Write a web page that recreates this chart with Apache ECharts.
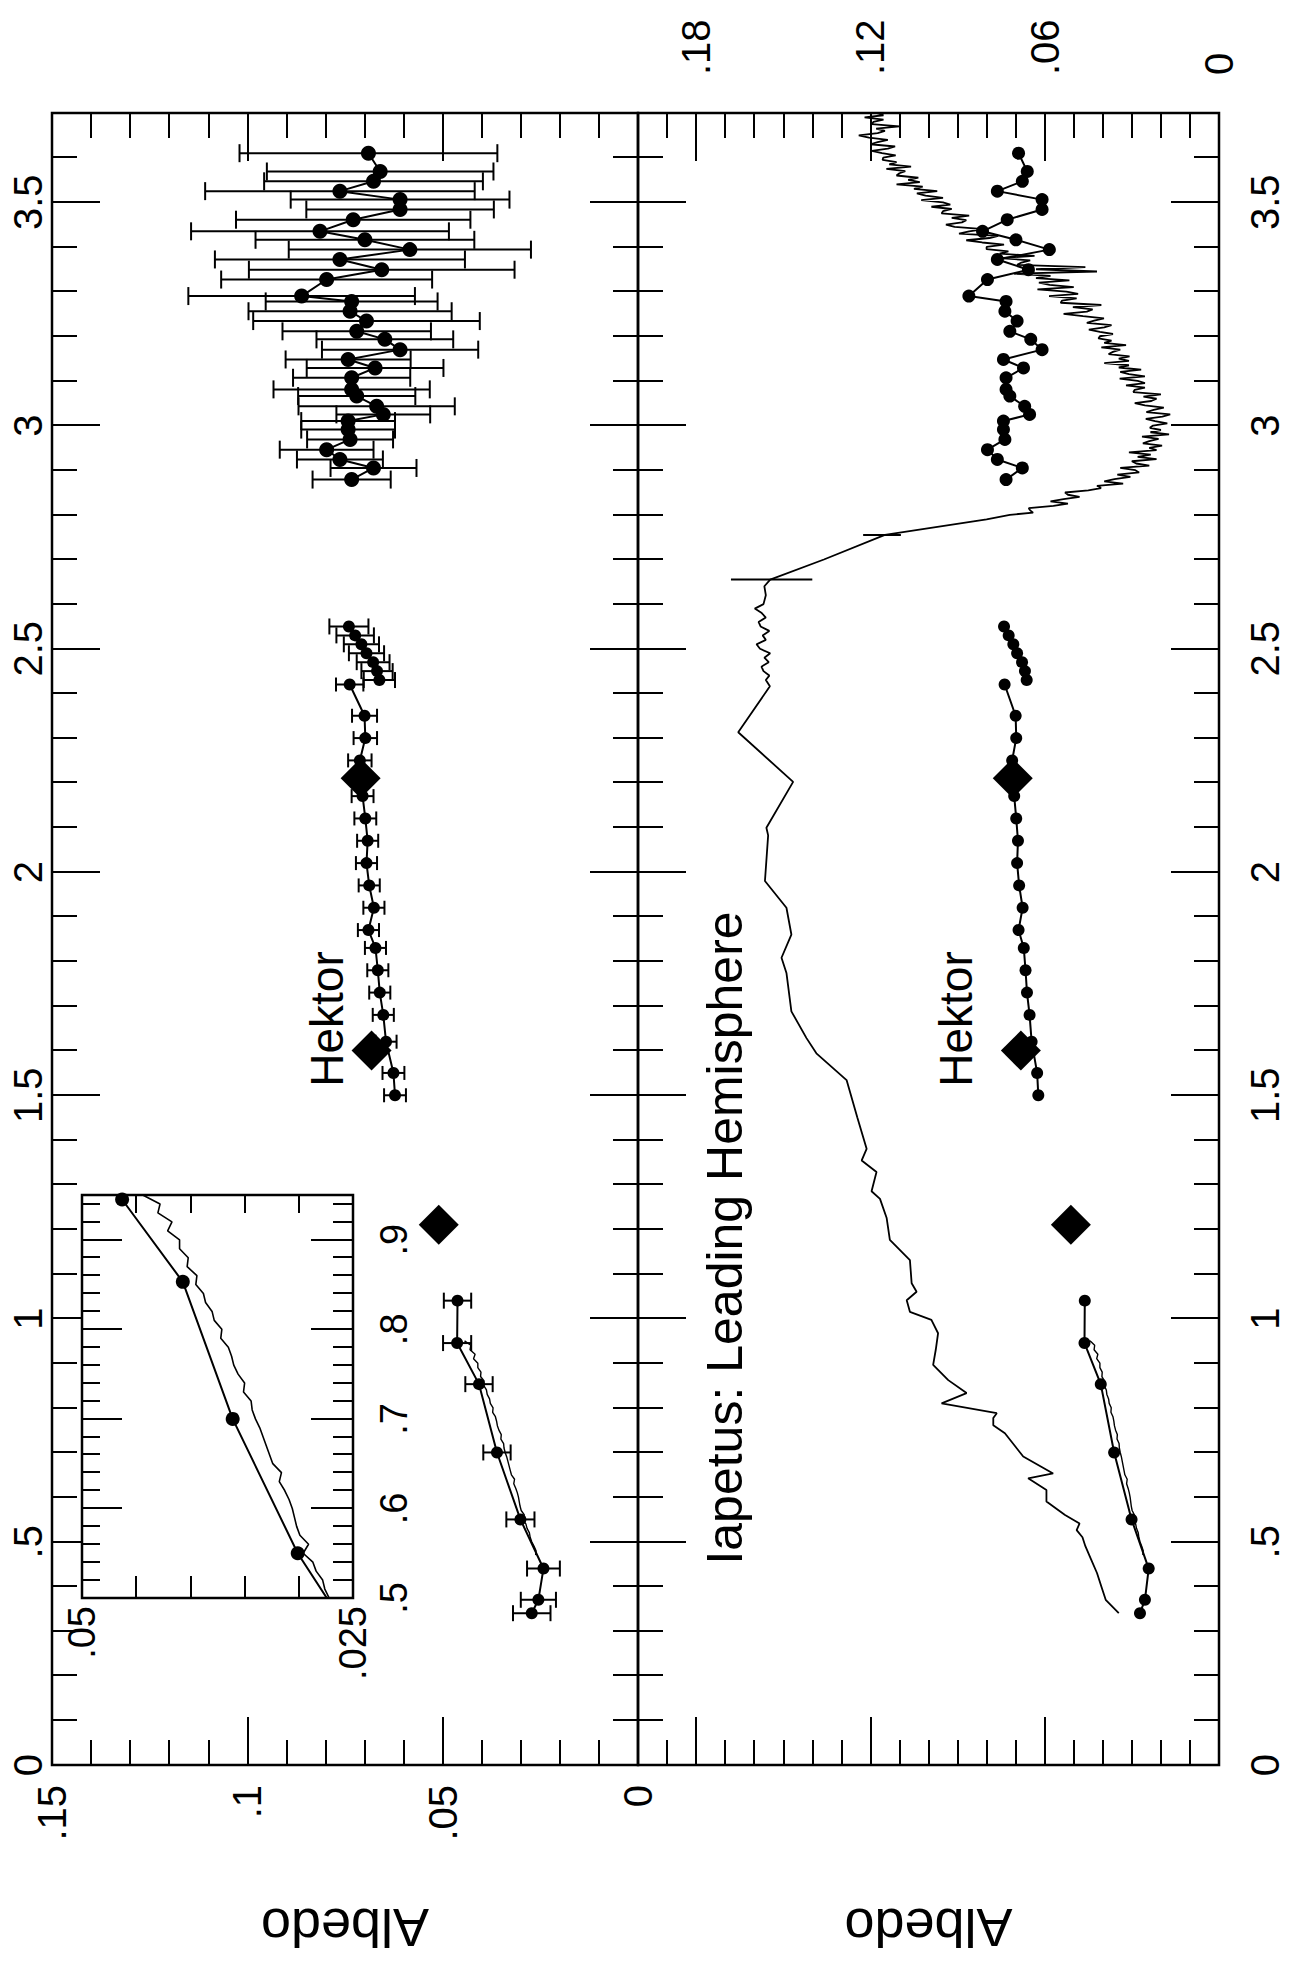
<!DOCTYPE html>
<html>
<head>
<meta charset="utf-8">
<script src="https://cdn.jsdelivr.net/npm/echarts@6/dist/echarts.min.js"></script>
<style>
html, body { margin:0; padding:0; overflow:hidden; width:1298px; height:1961px; background:#fff; }
#chart { position:absolute; left:0; top:0; width:1961px; height:1298px;
  transform-origin:0 0; transform:translate(0px,1961px) rotate(-90deg); background:#fff; }
</style>
</head>
<body>
<div id="chart"></div>
<script>
// ---------------- DATA ----------------
// Tick labels
const wlTickLabels = [0, 0.5, 1, 1.5, 2, 2.5, 3, 3.5];
const hkAlbTickLabels = [0, 0.05, 0.1, 0.15];
const iaAlbTickLabels = [0, 0.06, 0.12, 0.18];
const insetWlTickLabels = [0.5, 0.6, 0.7, 0.8, 0.9];
const insetAlbTickLabels = [0.025, 0.05];

// Hektor visible photometry (um, albedo, error)
const hkVisWl  = [0.34, 0.37, 0.44, 0.55, 0.70, 0.853, 0.945, 1.04];
const hkVisAlb = [0.0272, 0.0255, 0.0242, 0.0301, 0.0361, 0.0407, 0.0463, 0.0462];
const hkVisErr = [0.0048, 0.0045, 0.0042, 0.0036, 0.0035, 0.0035, 0.0036, 0.0035];

// Hektor visible spectrum (thin line)
const hkSpecWl = [0.47,0.48,0.49,0.50,0.51,0.52,0.53,0.54,0.55,0.56,0.57,0.58,0.59,0.60,0.61,0.62,0.63,0.64,0.65,0.66,0.67,0.68,0.69,0.70,0.71,0.72,0.73,0.74,0.75,0.76,0.77,0.78,0.79,0.80,0.81,0.82,0.83,0.84,0.85,0.86,0.87,0.88,0.89,0.90,0.91,0.92,0.93,0.94,0.95];
const hkSpecAlb = [0.0262,0.0261,0.0266,0.0272,0.0276,0.0278,0.0284,0.0287,0.0296,0.0291,0.0299,0.0302,0.0304,0.0306,0.0309,0.0313,0.0318,0.0316,0.0324,0.0327,0.0330,0.0333,0.0336,0.0340,0.0343,0.0344,0.0351,0.0350,0.0356,0.0360,0.0362,0.0365,0.0372,0.0371,0.0378,0.0380,0.0386,0.0388,0.0395,0.0394,0.0403,0.0402,0.0410,0.0410,0.0421,0.0417,0.0430,0.0428,0.0444];

// Hektor JHK photometry (diamonds)
const hkPhotWl  = [1.21, 1.60, 2.21];
const hkPhotAlb = [0.0510, 0.0682, 0.0710];

// Hektor near-IR spectrum 1.5-2.42
const hkNirWl  = [1.50, 1.55, 1.62, 1.68, 1.73, 1.78, 1.83, 1.87, 1.92, 1.97, 2.02, 2.07, 2.12, 2.17, 2.25, 2.30, 2.35, 2.42];
const hkNirAlb = [0.0622, 0.0626, 0.0645, 0.0652, 0.0661, 0.0666, 0.0672, 0.0690, 0.0676, 0.0688, 0.0695, 0.0692, 0.0698, 0.0705, 0.0712, 0.0698, 0.0700, 0.0738];
const hkNirErr = [0.0028, 0.0028, 0.0027, 0.0027, 0.0027, 0.0027, 0.0027, 0.0027, 0.0027, 0.0027, 0.0027, 0.0027, 0.0028, 0.0028, 0.0030, 0.0030, 0.0032, 0.0035];

// Hektor K-band end 2.43-2.55
const hkKWl  = [2.43, 2.45, 2.47, 2.49, 2.51, 2.53, 2.55];
const hkKAlb = [0.0662, 0.0668, 0.0678, 0.0695, 0.0708, 0.0724, 0.0740];
const hkKErr = [0.0040, 0.0040, 0.0042, 0.0045, 0.0045, 0.0048, 0.0050];

// Hektor 3-um spectrum
const hkIrWl  = [2.879,2.905,2.924,2.946,2.969,2.991,3.010,3.025,3.043,3.066,3.081,3.107,3.129,3.148,3.170,3.193,3.211,3.234,3.256,3.278,3.290,3.327,3.349,3.372,3.394,3.416,3.435,3.461,3.484,3.506,3.525,3.547,3.569,3.610];
const hkIrAlb = [0.0733,0.0677,0.0763,0.0797,0.0737,0.0742,0.0742,0.0652,0.0669,0.0720,0.0733,0.0733,0.0673,0.0742,0.0609,0.0648,0.0720,0.0695,0.0737,0.0733,0.0861,0.0797,0.0656,0.0763,0.0584,0.0699,0.0814,0.0729,0.0609,0.0609,0.0763,0.0677,0.0660,0.0690];
const hkIrErr = [0.0100,0.0110,0.0110,0.0120,0.0110,0.0120,0.0120,0.0120,0.0200,0.0150,0.0200,0.0150,0.0175,0.0160,0.0200,0.0175,0.0190,0.0290,0.0260,0.0220,0.0290,0.0270,0.0340,0.0320,0.0310,0.0280,0.0330,0.0300,0.0240,0.0280,0.0345,0.0280,0.0290,0.0330];

// Iapetus leading hemisphere spectrum, 0.34-2.79 um
const iaSpecWl = [0.34,0.37,0.40,0.43,0.46,0.49,0.51,0.526,0.541,0.56,0.59,0.616,0.642,0.653,0.691,0.743,0.761,0.777,0.788,0.81,0.833,0.862,0.896,0.93,0.967,0.997,1.015,1.041,1.06,1.079,1.131,1.176,1.225,1.268,1.285,1.328,1.354,1.38,1.45,1.534,1.594,1.628,1.688,1.774,1.808,1.86,1.92,1.98,2.082,2.099,2.202,2.313,2.416,
 2.43,2.44,2.45,2.46,2.47,2.48,2.49,2.50,2.51,2.52,2.53,2.54,2.55,2.56,2.57,2.58,2.59,2.60,2.62,2.64,2.655,2.70,2.755,2.79];
const iaSpecAlb = [0.0345,0.0390,0.0405,0.0420,0.0440,0.0460,0.0470,0.0490,0.0480,0.0530,0.0594,0.0594,0.0657,0.0571,0.0674,0.0737,0.0777,0.0777,0.0765,0.0955,0.0869,0.0932,0.0984,0.0975,0.0967,0.0990,0.1064,0.1075,0.1041,0.1058,0.1064,0.1133,0.1144,0.1167,0.1196,0.1179,0.1230,0.1213,0.1245,0.1282,0.1386,0.1420,0.1472,0.1489,0.1506,0.1472,0.1489,0.1563,0.1552,0.1558,0.1466,0.1655,0.1546,
 0.1560,0.1548,0.1568,0.1575,0.1550,0.1565,0.1545,0.1580,0.1592,0.1560,0.1571,0.1548,0.1578,0.1585,0.1560,0.1574,0.1598,0.1568,0.1560,0.1565,0.1545,0.1360,0.1150,0.0800];
// Iapetus 3-um region, 2.800-3.700 um in 0.005 um steps
const iaIrStartWl = 2.8, iaIrStepWl = 0.005;
const iaIrAlb = [
 0.072,0.064,0.065,0.0655,0.057,0.052,0.058,0.0535,0.048,0.052,0.053,0.045,0.0406,0.042,0.033,0.0395,0.036,0.0305,0.035,0.0275,
 0.0288,0.034,0.024,0.0285,0.030,0.0215,0.028,0.0235,0.031,0.0215,0.024,0.0196,0.0262,0.024,0.0208,0.0265,0.0172,0.0236,0.020,0.0238,
 0.0227,0.0178,0.022,0.0252,0.0195,0.0168,0.025,0.0225,0.019,0.0255,0.029,0.0233,0.0215,0.026,0.020,0.0295,0.029,0.0255,0.032,0.0255,
 0.028,0.0342,0.0255,0.031,0.034,0.0268,0.0345,0.031,0.0395,0.031,0.0345,0.0308,0.038,0.0365,0.034,0.0405,0.032,0.0395,0.037,0.0415,
 0.041,0.0365,0.041,0.0448,0.0395,0.037,0.0455,0.043,0.0396,0.0468,0.0535,0.0455,0.0435,0.0503,0.0405,0.0545,0.054,0.049,0.0585,0.0485,
 0.0525,0.0625,0.050,0.0583,0.062,0.0515,0.063,0.058,0.0705,0.042,0.063,0.046,0.0695,0.068,0.065,0.0755,0.0635,0.0755,0.0725,0.080,
 0.080,0.074,0.0815,0.087,0.079,0.076,0.0895,0.086,0.081,0.091,0.094,0.0885,0.087,0.092,0.086,0.0955,0.095,0.092,0.099,0.0925,
 0.095,0.1025,0.095,0.101,0.104,0.097,0.105,0.102,0.111,0.103,0.107,0.1035,0.111,0.110,0.108,0.1145,0.106,0.1135,0.111,0.1158,
 0.1156,0.1113,0.116,0.1195,0.114,0.1115,0.120,0.1175,0.114,0.1205,0.124,0.1175,0.115,0.118,0.110,0.1195,0.119,0.1155,0.122,0.1155,
 0.118];
// Iapetus spectrum error bars
const iaErrWl  = [2.655, 2.755];
const iaErrAlb = [0.1540, 0.1160];
const iaErrErr = [0.0140, 0.0065];

// ---------------- CHART ----------------
const FONT = '"Liberation Sans", Arial, Helvetica, sans-serif';
const BLACK = '#000';

function fmt(list) {
  return function (v) {
    const hit = list.find(t => Math.abs(t - v) < 1e-7);
    if (hit === undefined) return '';
    if (hit === 0) return '0';
    return String(hit).replace(/^0\./, '.');
  };
}

const xAxes = [], yAxes = [];
function tickAxis(arr, grid, min, max, position, interval, len, label, extra) {
  arr.push(Object.assign({
    type: 'value', gridIndex: grid, min: min, max: max, position: position, interval: interval,
    axisLine: { show: false, onZero: false },
    splitLine: { show: false },
    axisTick: { show: true, inside: true, length: len, lineStyle: { color: BLACK, width: 2 } },
    axisLabel: label ? Object.assign({ show: true, color: BLACK, fontFamily: FONT, showMinLabel: true, showMaxLabel: true }, label) : { show: false }
  }, extra || {}));
  return arr.length - 1;
}

// Grid 0: Hektor (albedo 0-0.15)
const hX = tickAxis(xAxes, 0, 0, 3.7, 'top', 0.5, 48, { fontSize: 40, margin: 4, formatter: fmt(wlTickLabels) });
tickAxis(xAxes, 0, 0, 3.7, 'top', 0.1, 25);
tickAxis(xAxes, 0, 0, 3.7, 'bottom', 0.5, 48);
tickAxis(xAxes, 0, 0, 3.7, 'bottom', 0.1, 25);
const hY = tickAxis(yAxes, 0, 0, 0.15, 'left', 0.05, 48, { fontSize: 40, margin: 20, formatter: fmt(hkAlbTickLabels) },
  { name: 'Albedo', nameLocation: 'middle', nameRotate: 90, nameGap: 136, nameTextStyle: { fontSize: 54, fontFamily: FONT, color: BLACK } });
tickAxis(yAxes, 0, 0, 0.15, 'left', 0.01, 25);
tickAxis(yAxes, 0, 0, 0.15, 'right', 0.05, 48);
tickAxis(yAxes, 0, 0, 0.15, 'right', 0.01, 25);

// Grid 1: Iapetus (albedo 0-0.2)
tickAxis(xAxes, 1, 0, 3.7, 'top', 0.5, 48);
tickAxis(xAxes, 1, 0, 3.7, 'top', 0.1, 25);
const iX = tickAxis(xAxes, 1, 0, 3.7, 'bottom', 0.5, 48, { fontSize: 40, margin: 26, formatter: fmt(wlTickLabels) });
tickAxis(xAxes, 1, 0, 3.7, 'bottom', 0.1, 25);
const iY = tickAxis(yAxes, 1, 0, 0.2, 'left', 0.06, 48, null,
  { name: 'Albedo', nameLocation: 'middle', nameRotate: 90, nameGap: 136, nameTextStyle: { fontSize: 54, fontFamily: FONT, color: BLACK } });
tickAxis(yAxes, 1, 0, 0.2, 'left', 0.01, 25);
tickAxis(yAxes, 1, 0, 0.2, 'right', 0.06, 48, { fontSize: 40, margin: 38, formatter: fmt(iaAlbTickLabels) });
tickAxis(yAxes, 1, 0, 0.2, 'right', 0.01, 25);

// Grid 2: inset (0.5-0.95 um, albedo 0.025-0.05)
const insetZ = { z: 5 };
tickAxis(xAxes, 2, 0.5, 0.95, 'top', 0.1, 40, null, insetZ);
tickAxis(xAxes, 2, 0.5, 0.95, 'top', 0.02, 18, null, insetZ);
const nX = tickAxis(xAxes, 2, 0.5, 0.95, 'bottom', 0.1, 42, { fontSize: 38, margin: 22, formatter: fmt(insetWlTickLabels) }, insetZ);
tickAxis(xAxes, 2, 0.5, 0.95, 'bottom', 0.02, 20, null, insetZ);
const nY = tickAxis(yAxes, 2, 0.025, 0.05, 'left', 0.005, 22, { fontSize: 38, margin: 8, formatter: fmt(insetAlbTickLabels) }, insetZ);
tickAxis(yAxes, 2, 0.025, 0.05, 'right', 0.005, 18, null, insetZ);

const pts = (wl, al) => wl.map((w, i) => [w, al[i]]);
const errPts = (wl, al, er) => wl.map((w, i) => [w, al[i], er[i]]);
const iaIrPts = iaIrAlb.map((a, i) => [+(iaIrStartWl + i * iaIrStepWl).toFixed(3), a]);
const iaAllPts = pts(iaSpecWl, iaSpecAlb).concat(iaIrPts);

function dots(xi, yi, data, size, z) {
  return { type: 'line', xAxisIndex: xi, yAxisIndex: yi, data: data, symbol: 'circle', symbolSize: size,
    showSymbol: true, lineStyle: { color: BLACK, width: 2 }, itemStyle: { color: BLACK, borderWidth: 0, opacity: 1 },
    animation: false, clip: true, z: z || 3, silent: true };
}
function spec(xi, yi, data, width, z) {
  return { type: 'line', xAxisIndex: xi, yAxisIndex: yi, data: data, symbol: 'none', showSymbol: false,
    lineStyle: { color: BLACK, width: width || 1.6 }, animation: false, clip: true, z: z || 2, silent: true };
}
function diamonds(xi, yi, data, z) {
  return { type: 'scatter', xAxisIndex: xi, yAxisIndex: yi, data: data, symbol: 'diamond', symbolSize: 40,
    itemStyle: { color: BLACK, opacity: 1 }, animation: false, z: z || 4, silent: true };
}
function errBars(xi, yi, data, cap) {
  return { type: 'custom', xAxisIndex: xi, yAxisIndex: yi, data: data, encode: { x: 0, y: 1 },
    z: 2, silent: true, animation: false,
    renderItem: function (params, api) {
      const w = api.value(0), a = api.value(1), e = api.value(2);
      const lo = api.coord([w, a - e]), hi = api.coord([w, a + e]);
      const st = { stroke: BLACK, lineWidth: 2 };
      return { type: 'group', children: [
        { type: 'line', shape: { x1: lo[0], y1: lo[1], x2: hi[0], y2: hi[1] }, style: st },
        { type: 'line', shape: { x1: lo[0] - cap, y1: lo[1], x2: lo[0] + cap, y2: lo[1] }, style: st },
        { type: 'line', shape: { x1: hi[0] - cap, y1: hi[1], x2: hi[0] + cap, y2: hi[1] }, style: st }
      ] };
    } };
}

const series = [
  // Hektor panel
  errBars(hX, hY, errPts(hkVisWl, hkVisAlb, hkVisErr), 8),
  errBars(hX, hY, errPts(hkNirWl, hkNirAlb, hkNirErr), 7),
  errBars(hX, hY, errPts(hkKWl, hkKAlb, hkKErr), 8),
  errBars(hX, hY, errPts(hkIrWl, hkIrAlb, hkIrErr), 9),
  spec(hX, hY, pts(hkSpecWl, hkSpecAlb), 1.4),
  dots(hX, hY, pts(hkVisWl, hkVisAlb), 12),
  dots(hX, hY, pts(hkNirWl, hkNirAlb), 12),
  dots(hX, hY, pts(hkKWl, hkKAlb), 12),
  dots(hX, hY, pts(hkIrWl, hkIrAlb), 15),
  diamonds(hX, hY, pts(hkPhotWl, hkPhotAlb)),
  // Iapetus panel
  spec(iX, iY, iaAllPts, 1.8),
  errBars(iX, iY, errPts(iaErrWl, iaErrAlb, iaErrErr), 0),
  spec(iX, iY, pts(hkSpecWl, hkSpecAlb), 1.4),
  dots(iX, iY, pts(hkVisWl, hkVisAlb), 12),
  dots(iX, iY, pts(hkNirWl, hkNirAlb), 12),
  dots(iX, iY, pts(hkKWl, hkKAlb), 12),
  dots(iX, iY, pts(hkIrWl, hkIrAlb), 13),
  diamonds(iX, iY, pts(hkPhotWl, hkPhotAlb)),
  // Inset
  spec(nX, nY, pts(hkSpecWl, hkSpecAlb), 1.6, 6),
  dots(nX, nY, pts(hkVisWl, hkVisAlb), 14, 7)
];

const chart = echarts.init(document.getElementById('chart'), null, { renderer: 'svg', width: 1961, height: 1298 });
chart.setOption({
  animation: false,
  backgroundColor: '#fff',
  textStyle: { fontFamily: FONT, color: BLACK },
  grid: [
    { left: 196, top: 52, width: 1652, height: 586, show: true, borderColor: BLACK, borderWidth: 2.5, backgroundColor: 'transparent', containLabel: false, outerBoundsMode: 'none' },
    { left: 196, top: 638, width: 1652, height: 581, show: true, borderColor: BLACK, borderWidth: 2.5, backgroundColor: 'transparent', containLabel: false, outerBoundsMode: 'none' },
    { left: 363, top: 82, width: 403, height: 271, show: true, borderColor: BLACK, borderWidth: 2.5, backgroundColor: '#fff', containLabel: false, outerBoundsMode: 'none', z: 4 }
  ],
  xAxis: xAxes,
  yAxis: yAxes,
  series: series,
  graphic: [
    { type: 'text', x: 942, y: 327, z: 10, style: { text: 'Hektor', fontSize: 46, fontFamily: FONT, fill: BLACK, align: 'center', verticalAlign: 'middle', textAlign: 'center', textVerticalAlign: 'middle' } },
    { type: 'text', x: 942, y: 956, z: 10, style: { text: 'Hektor', fontSize: 46, fontFamily: FONT, fill: BLACK, align: 'center', verticalAlign: 'middle', textAlign: 'center', textVerticalAlign: 'middle' } },
    { type: 'text', x: 723, y: 725, z: 10, style: { text: 'Iapetus: Leading Hemisphere', fontSize: 50, fontFamily: FONT, fill: BLACK, align: 'center', verticalAlign: 'middle', textAlign: 'center', textVerticalAlign: 'middle' } }
  ]
});
</script>
</body>
</html>
